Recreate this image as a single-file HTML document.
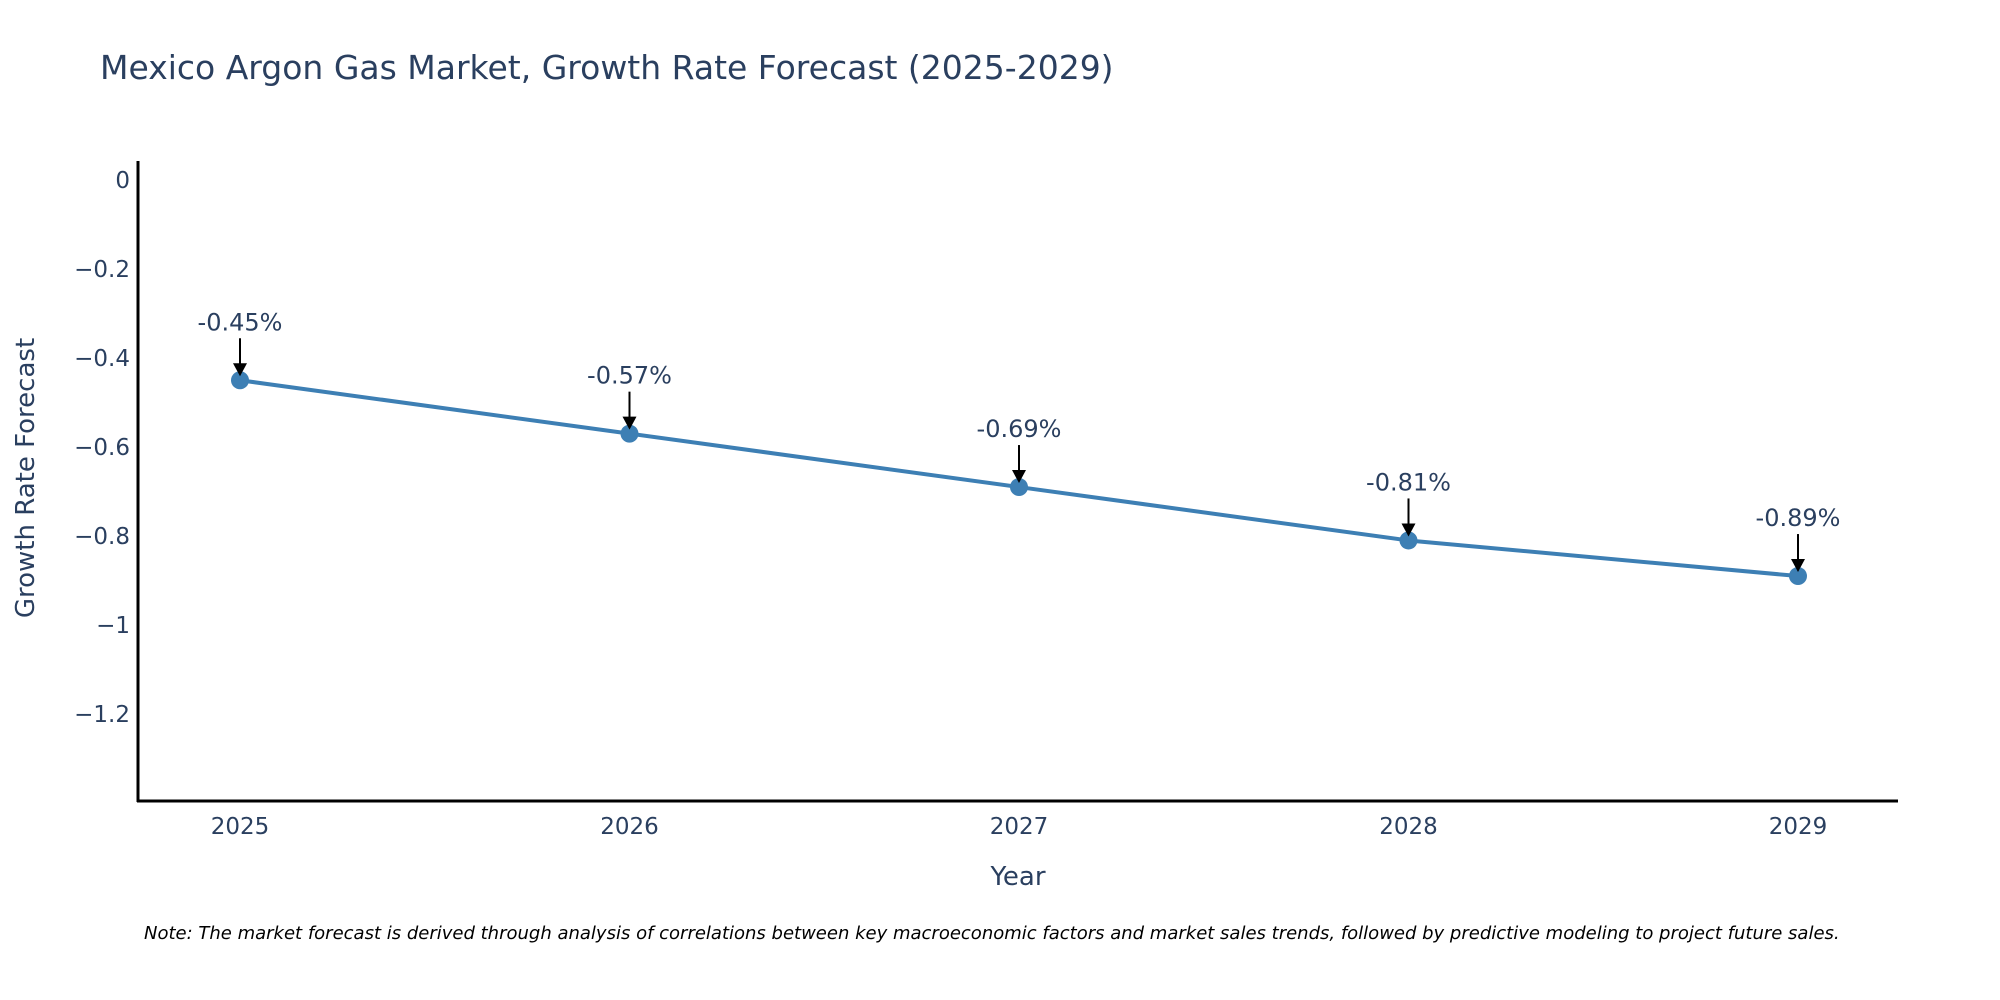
<!DOCTYPE html>
<html><head><meta charset="utf-8"><style>
body{margin:0;background:#fff;}
svg{display:block;font-family:"DejaVu Sans","Liberation Sans",sans-serif;}
</style></head><body>
<svg id="chart" width="2000" height="1000" viewBox="0 0 2000 1000">
<text x="100" y="79" font-size="33" fill="#2a3f5f">Mexico Argon Gas Market, Growth Rate Forecast (2025-2029)</text>
<g id="yticks"></g><g id="xticks"></g>
<line x1="138" y1="161" x2="138" y2="802" stroke="#000" stroke-width="3"/>
<line x1="137" y1="801" x2="1898" y2="801" stroke="#000" stroke-width="3"/>
<g id="series"></g><g id="annots"></g>
<text x="1018" y="885" font-size="26" fill="#2a3f5f" text-anchor="middle">Year</text>
<text transform="translate(34,478) rotate(-90)" font-size="26" fill="#2a3f5f" text-anchor="middle">Growth Rate Forecast</text>
<text x="144" y="939" font-size="18" font-style="italic" fill="#000">Note: The market forecast is derived through analysis of correlations between key macroeconomic factors and market sales trends, followed by predictive modeling to project future sales.</text>
</svg>
<script>
const years = [2025, 2026, 2027, 2028, 2029];
const growth = [-0.45, -0.57, -0.69, -0.81, -0.89];
const labels = ["-0.45%", "-0.57%", "-0.69%", "-0.81%", "-0.89%"];
const yTicks = [0, -0.2, -0.4, -0.6, -0.8, -1, -1.2];
const yTickLabels = ["0", "\u22120.2", "\u22120.4", "\u22120.6", "\u22120.8", "\u22121", "\u22121.2"];
const NS = "http://www.w3.org/2000/svg";
function xs(v){return 240 + (v - 2025) * 389.5;}
function ys(v){return 180 - v * 445;}
function mk(tag, attrs, parent){const e=document.createElementNS(NS,tag);for(const k in attrs)e.setAttribute(k,attrs[k]);parent.appendChild(e);return e;}
const yt=document.getElementById('yticks');
yTicks.forEach((v,i)=>{const t=mk('text',{x:130,y:ys(v)+8,'font-size':23,fill:'#2a3f5f','text-anchor':'end'},yt);t.textContent=yTickLabels[i];

});
const xt=document.getElementById('xticks');
years.forEach(v=>{const t=mk('text',{x:xs(v),y:834,'font-size':23,fill:'#2a3f5f','text-anchor':'middle'},xt);t.textContent=v;

});
const s=document.getElementById('series');
const pl=mk('polyline',{points:years.map((y,i)=>xs(y)+','+ys(growth[i])).join(' '),fill:'none',stroke:'#3d7fb4','stroke-width':4},s);


years.forEach((y,i)=>{const c=mk('circle',{cx:xs(y),cy:ys(growth[i]),r:9,fill:'#3d7fb4'},s);

});
const a=document.getElementById('annots');
years.forEach((y,i)=>{const x=xs(y),py=ys(growth[i]);
const l=mk('line',{x1:x,y1:py-42,x2:x,y2:py-14,stroke:'#000','stroke-width':2},a);


const h=mk('polygon',{points:`${x-7},${py-17} ${x+7},${py-17} ${x},${py-4}`,fill:'#000'},a);


const t=mk('text',{x:x,y:py-50,'font-size':24,fill:'#2a3f5f','text-anchor':'middle'},a);t.textContent=labels[i];

});
</script>
</body></html>
